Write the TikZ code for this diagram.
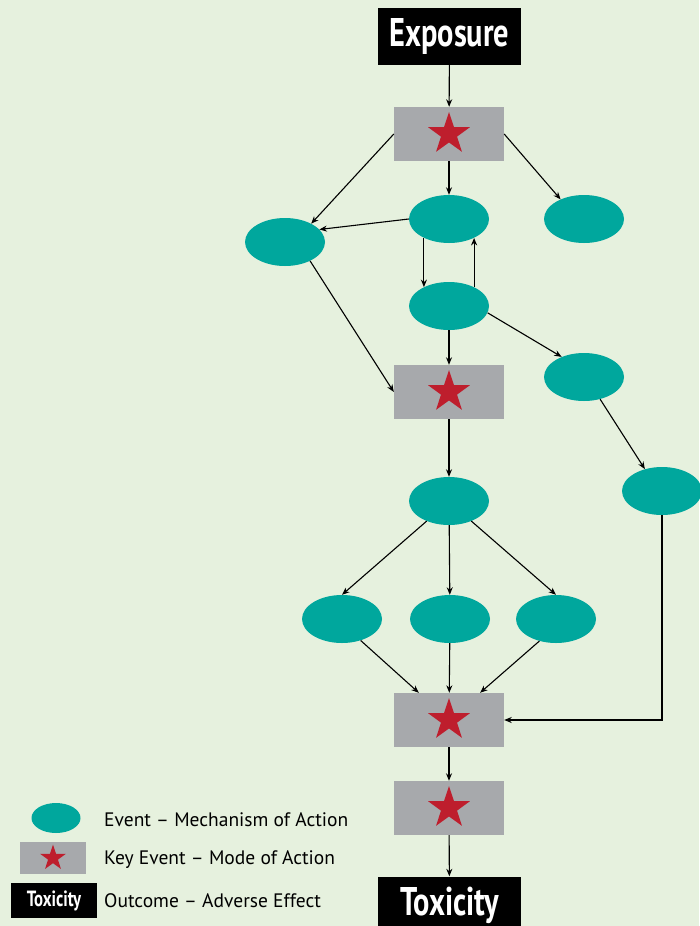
\documentclass[tikz,border=0pt]{standalone}
\usepackage{fontspec}
\setmainfont{PT Sans}
\newfontfamily\condfont[FakeStretch=0.76]{PT Sans}
\usetikzlibrary{shapes.geometric,arrows.meta}
\definecolor{bgcol}{HTML}{E6F1DE}
\definecolor{teal}{HTML}{00A79D}
\definecolor{keygray}{HTML}{A7A9AC}
\definecolor{starred}{HTML}{BE1E2D}
\tikzset{
  event/.style={ellipse, fill=teal, draw=none, minimum width=80pt, minimum height=48pt, inner sep=0pt},
  keybox/.style={rectangle, fill=keygray, draw=none, minimum width=110pt, minimum height=54pt, inner sep=0pt},
  keystar/.style={star, star points=5, star point ratio=2.6, fill=starred, draw=none, minimum size=44pt, inner sep=0pt},
  outcome/.style={rectangle, fill=black, text=white, minimum width=143pt, minimum height=57pt, inner sep=0pt,
    font=\condfont\bfseries\fontsize{40}{42}\selectfont},
  link/.style={line width=1.1pt, -{Stealth[length=7.5pt,width=6pt]}},
  legendtext/.style={anchor=west, inner sep=0pt, font=\fontsize{19.5}{22}\selectfont}
}
\begin{document}
\begin{tikzpicture}[x=1pt,y=-1pt]
\useasboundingbox (0,0) rectangle (699,926);
\fill[bgcol] (0,0) rectangle (699,926);

% outcome boxes
\node[outcome] (expo) at (449.5,36.5) {Exposure};
\node[outcome] (tox) at (449.5,905) {Toxicity};

% key events
\node[keybox] (k1) at (449,134) {};
\node[keystar] (k1s) at (k1.center) {};
\node[keybox] (k2) at (449,392) {};
\node[keystar] (k2s) at (k2.center) {};
\node[keybox] (k3) at (449,720) {};
\node[keystar] (k3s) at (k3.center) {};
\node[keybox] (k4) at (449,808) {};
\node[keystar] (k4s) at (k4.center) {};

% events
\node[event] (a) at (449,219) {};
\node[event] (b) at (584,219) {};
\node[event] (c) at (285,242) {};
\node[event] (d) at (449,306) {};
\node[event] (e) at (584,377) {};
\node[event] (f) at (449,501) {};
\node[event] (g) at (662,491) {};
\node[event] (h) at (342,619) {};
\node[event] (i) at (450,619) {};
\node[event] (j) at (556,619) {};

% connectors
\draw[link] (expo) -- (k1);
\draw[link] (k1.west) -- (c.35);
\draw[link] (k1) -- (a);
\draw[link] (k1.east) -- (b.140);
\draw[link] (a.west) -- (c.20);
\draw[link] (a.-143) -- (d.143);
\draw[link] (d.37) -- (a.-37);
\draw[link] (c.-37) -- (k2.west);
\draw[link] (d) -- (k2);
\draw[link] (d.-10) -- (e.138);
\draw[link] (e.-54) -- (g.128);
\draw[link] (k2) -- (f);
\draw[link] (f.-138) -- (h.north);
\draw[link] (f) -- (i);
\draw[link] (f.-42) -- (j.north);
\draw[link] (h.-49) -- (k3);
\draw[link] (i) -- (k3);
\draw[link] (j.233) -- (k3);
\draw[link] (g.south) |- (k3.east);
\draw[link] (k3) -- (k4);
\draw[link] (k4) -- (tox);

% legend
\node[event, minimum width=49pt, minimum height=30pt] (lev) at (56,818) {};
\node[keybox, minimum width=66pt, minimum height=32pt] (lkey) at (53,858) {};
\node[keystar, minimum size=27pt] (lstar) at (lkey.center) {};
\node[outcome, minimum width=86pt, minimum height=35pt, font=\condfont\bfseries\fontsize{22}{24}\selectfont] (ltox) at (54,900.5) {Toxicity};
\node[legendtext] (t1) at (104,820) {Event – Mechanism of Action};
\node[legendtext] (t2) at (104,860) {Key Event – Mode of Action};
\node[legendtext] (t3) at (104,901) {Outcome – Adverse Effect};
\end{tikzpicture}
\end{document}
